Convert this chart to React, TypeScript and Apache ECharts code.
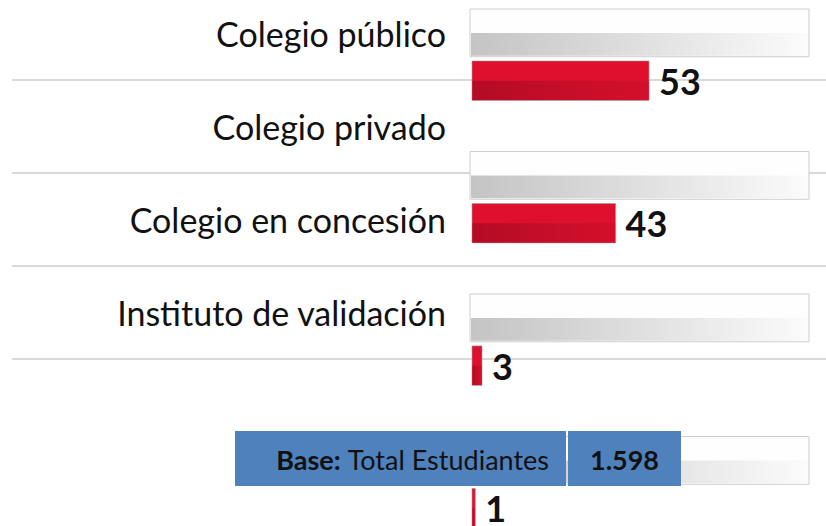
import React, { useEffect, useRef } from "react";
import * as echarts from "echarts";

const categories = [
  "Colegio público",
  "Colegio privado",
  "Colegio en concesión",
  "Instituto de validación",
];
const values = [53, 43, 3, 1];
const fullScale = [100, 100, 100, 100];
const baseLabel = "Total Estudiantes";
const baseTotal = "1.598";

const FONT = "Lato";

export default function App() {
  const ref = useRef<HTMLDivElement>(null);

  useEffect(() => {
    if (!ref.current) return;
    const chart = echarts.init(ref.current, undefined, { renderer: "svg" });

    const grayRender = (params: any, api: any) => {
      const cat = api.value(1);
      const p0 = api.coord([0, cat]);
      const p1 = api.coord([api.value(0), cat]);
      const band = api.size([0, 1])[1];
      const top = p0[1] - band * 0.319;
      const h = band * 0.335;
      const x = p0[0] - 2;
      const w = p1[0] - p0[0] + 5;
      return {
        type: "group",
        children: [
          {
            type: "rect",
            shape: { x, y: top, width: w, height: h },
            style: { fill: "#fefefe", stroke: "#cdcdcd", lineWidth: 1 },
          },
          {
            type: "rect",
            shape: { x: x + 1, y: top + h * 0.5, width: w - 2, height: h * 0.5 - 1 },
            style: {
              fill: new echarts.graphic.LinearGradient(0, 0, 1, 0, [
                { offset: 0, color: "#c4c4c4" },
                { offset: 0.55, color: "#e2e2e2" },
                { offset: 1, color: "#fbfbfb" },
              ]),
            },
          },
        ],
      };
    };

    const redRender = (params: any, api: any) => {
      const cat = api.value(1);
      const v = api.value(0);
      const p0 = api.coord([0, cat]);
      const p1 = api.coord([v, cat]);
      const band = api.size([0, 1])[1];
      const top = p0[1] + band * 0.045;
      const h = band * 0.277;
      const x = p0[0];
      const w = Math.max(p1[0] - p0[0], 2);
      return {
        type: "group",
        children: [
          {
            type: "rect",
            shape: { x, y: top, width: w, height: h },
            style: { fill: "#df102d", stroke: "rgba(160,160,160,0.6)", lineWidth: 1 },
          },
          {
            type: "rect",
            shape: { x: x + 0.5, y: top + h * 0.5, width: Math.max(w - 1, 1), height: h * 0.5 - 0.5 },
            style: {
              fill: new echarts.graphic.LinearGradient(0, 0, 1, 0, [
                { offset: 0, color: "#b30c24" },
                { offset: 0.6, color: "#c80e29" },
                { offset: 1, color: "#d40f2b" },
              ]),
            },
          },
          {
            type: "text",
            x: x + w + 10,
            y: top + h / 2,
            style: {
              text: String(v),
              fontFamily: FONT,
              fontWeight: "bold",
              fontSize: 36,
              fill: "#111111",
              align: "left",
              verticalAlign: "middle",
            },
          },
        ],
      };
    };

    const option: any = {
      animation: false,
      grid: [
        { left: 12, right: 0, top: -13, height: 372, outerBoundsMode: "none", containLabel: false },
        { left: 472, right: 20, top: -16.75, height: 570, outerBoundsMode: "none", containLabel: false },
      ],
      xAxis: [
        { gridIndex: 0, type: "value", min: 0, max: 100, show: false },
        { gridIndex: 1, type: "value", min: 0, max: 100, show: false },
      ],
      yAxis: [
        {
          gridIndex: 0,
          type: "category",
          data: categories,
          inverse: true,
          offset: -434,
          axisLine: { show: false },
          axisTick: { show: false },
          axisLabel: {
            margin: 0,
            fontSize: 34,
            fontFamily: FONT,
            color: "#111111",
            padding: [14, 0, 0, 0],
          },
          splitLine: { show: true, lineStyle: { color: "#d9d9d9", width: 2 } },
        },
        {
          gridIndex: 1,
          type: "category",
          data: categories,
          inverse: true,
          show: false,
        },
      ],
      series: [
        {
          type: "custom",
          xAxisIndex: 1,
          yAxisIndex: 1,
          encode: { x: 0, y: 1 },
          data: categories.map((c, i) => [fullScale[i], i]),
          renderItem: grayRender,
          z: 2,
        },
        {
          type: "custom",
          xAxisIndex: 1,
          yAxisIndex: 1,
          encode: { x: 0, y: 1 },
          data: categories.map((c, i) => [values[i], i]),
          renderItem: redRender,
          z: 3,
        },
      ],
      graphic: [
        {
          type: "rect",
          x: 235,
          y: 431,
          z: 100,
          shape: { x: 0, y: 0, width: 331, height: 55 },
          style: { fill: "#4f81bd" },
        },
        {
          type: "rect",
          x: 568,
          y: 431,
          z: 100,
          shape: { x: 0, y: 0, width: 113, height: 55 },
          style: { fill: "#4f81bd" },
        },
        {
          type: "text",
          x: 549,
          y: 459,
          z: 101,
          style: {
            text: "{b|Base:} " + baseLabel,
            rich: {
              b: { fontWeight: "bold", fontSize: 27, fontFamily: FONT, fill: "#111111" },
            },
            fontSize: 27,
            fontFamily: FONT,
            fill: "#111111",
            align: "right",
            verticalAlign: "middle",
          },
        },
        {
          type: "text",
          x: 624.5,
          y: 459,
          z: 101,
          style: {
            text: baseTotal,
            fontSize: 27,
            fontWeight: "bold",
            fontFamily: FONT,
            fill: "#111111",
            align: "center",
            verticalAlign: "middle",
          },
        },
      ],
    };

    chart.setOption(option);
    return () => chart.dispose();
  }, []);

  return (
    <div
      ref={ref}
      style={{ position: "fixed", left: 0, top: 0, width: 826, height: 526, background: "#ffffff" }}
    />
  );
}
